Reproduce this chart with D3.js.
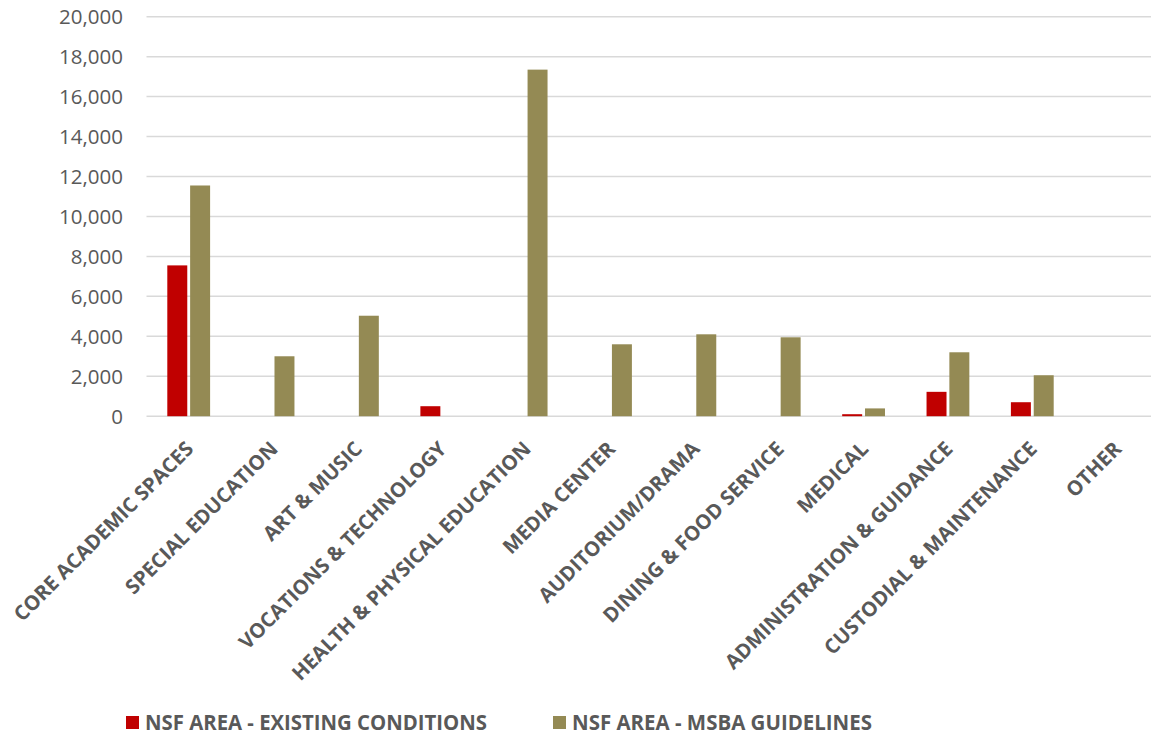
<!DOCTYPE html>
<html>
<head>
<meta charset="utf-8">
<script src="https://cdn.jsdelivr.net/npm/d3@7"></script>
<style>
  html, body { margin: 0; padding: 0; background: #fff; }
  svg { display: block; }
</style>
</head>
<body>
<svg id="chart" width="1151" height="737"></svg>
<script>
// Space categories (net square feet by program area)
const categories = [
  "CORE ACADEMIC SPACES", "SPECIAL EDUCATION", "ART & MUSIC",
  "VOCATIONS & TECHNOLOGY", "HEALTH & PHYSICAL EDUCATION", "MEDIA CENTER",
  "AUDITORIUM/DRAMA", "DINING & FOOD SERVICE", "MEDICAL",
  "ADMINISTRATION & GUIDANCE", "CUSTODIAL & MAINTENANCE", "OTHER"
];
const existingConditions = [7550, 0, 0, 500, 0, 0, 0, 0, 100, 1220, 700, 0];
const msbaGuidelines     = [11550, 3000, 5030, 0, 17350, 3600, 4100, 3950, 390, 3200, 2050, 0];
const seriesNames = ["NSF AREA - EXISTING CONDITIONS", "NSF AREA - MSBA GUIDELINES"];
const seriesColors = ["#c00000", "#948a54"];
const yTicks = [0, 2000, 4000, 6000, 8000, 10000, 12000, 14000, 16000, 18000, 20000];

const svg = d3.select("#chart");
const plotLeft = 146.5, bandW = 84.36;
const plotTop = 16.7, plotBottom = 416.2;

const x = d3.scaleBand()
  .domain(categories)
  .range([plotLeft, plotLeft + bandW * categories.length])
  .paddingInner(0).paddingOuter(0);

const xs = d3.scaleBand()
  .domain([0, 1])
  .range([20.8, 63.6])
  .paddingInner(0.125);

const y = d3.scaleLinear().domain([0, 20000]).range([plotBottom, plotTop]);

// horizontal gridlines
svg.append("g")
  .selectAll("line")
  .data(yTicks)
  .join("line")
  .attr("x1", plotLeft).attr("x2", 1151)
  .attr("y1", d => y(d)).attr("y2", d => y(d))
  .attr("stroke", "#d9d9d9").attr("stroke-width", 1.5);

// y axis labels
const yAxis = d3.axisLeft(y)
  .tickValues(yTicks)
  .tickFormat(d3.format(","))
  .tickSize(0).tickPadding(0);
const gy = svg.append("g").attr("transform", "translate(123,0)").call(yAxis);
gy.select(".domain").remove();
gy.selectAll("text")
  .attr("fill", "#595959")
  .attr("font-family", "'Open Sans', sans-serif")
  .attr("font-size", 20.5)
  .attr("dy", "0.35em");

// bars
const series = [existingConditions, msbaGuidelines];
series.forEach((vals, si) => {
  svg.append("g")
    .selectAll("rect")
    .data(categories.map((c, i) => ({ c, v: vals[i] })).filter(d => d.v > 0))
    .join("rect")
    .attr("x", d => x(d.c) + xs(si))
    .attr("width", xs.bandwidth())
    .attr("y", d => y(d.v))
    .attr("height", d => y(0) - y(d.v))
    .attr("fill", seriesColors[si]);
});

// category labels, rotated
svg.append("g")
  .selectAll("text")
  .data(categories)
  .join("text")
  .attr("transform", d => `translate(${x(d) + x.bandwidth() / 2 + 6},${plotBottom + 34}) rotate(-45)`)
  .attr("text-anchor", "end")
  .attr("fill", "#595959")
  .attr("font-family", "'Open Sans', sans-serif")
  .attr("font-weight", 700)
  .attr("font-size", 20.3)
  .text(d => d);

// legend
const legendItems = [
  { name: seriesNames[0], color: seriesColors[0], sx: 126, tx: 145, w: 342 },
  { name: seriesNames[1], color: seriesColors[1], sx: 553, tx: 572, w: 300 }
];
const lg = svg.append("g");
legendItems.forEach(it => {
  lg.append("rect")
    .attr("x", it.sx).attr("y", 716).attr("width", 13).attr("height", 13)
    .attr("fill", it.color);
  lg.append("text")
    .attr("x", it.tx).attr("y", 730)
    .attr("fill", "#595959")
    .attr("font-family", "'Open Sans', sans-serif")
    .attr("font-weight", 700)
    .attr("font-size", 21)
    .attr("textLength", it.w)
    .attr("lengthAdjust", "spacingAndGlyphs")
    .text(it.name);
});
</script>
</body>
</html>
